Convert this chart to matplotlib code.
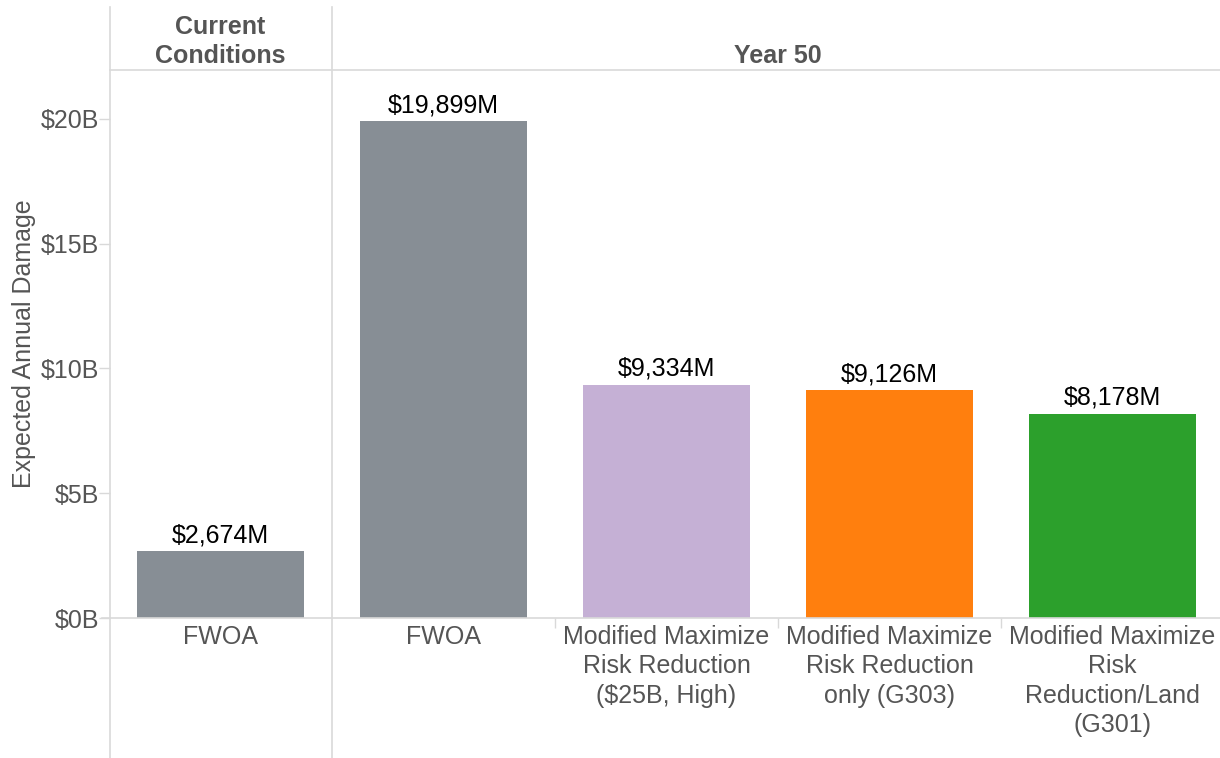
"""Expected annual damage bar chart: current conditions vs. year 50 alternatives."""

import matplotlib

matplotlib.use("Agg")

import matplotlib.pyplot as plt
from matplotlib.ticker import FuncFormatter
import matplotlib.transforms as mtransforms

plt.rcParams["font.family"] = ["Liberation Sans", "DejaVu Sans"]

# Data (values in $M)
categories = [
    "FWOA",
    "FWOA",
    "Modified Maximize\nRisk Reduction\n($25B, High)",
    "Modified Maximize\nRisk Reduction\nonly (G303)",
    "Modified Maximize\nRisk\nReduction/Land\n(G301)",
]
damage_musd = [2674, 19899, 9334, 9126, 8178]
bar_colors = ["#878e95", "#878e95", "#c5b0d5", "#ff7f0e", "#2ca02c"]
panel_titles = ["Current\nConditions", "Year 50"]
y_ticks = [0, 5, 10, 15, 20]

TEXT_GREY = "#555555"
LINE_GREY = "#d9d9d9"
FS = 18

W, H = 1220, 758
fig = plt.figure(figsize=(W / 100, H / 100), dpi=100)
# axes box in pixels: left 110, right 1220, top 70, bottom 618
ax = fig.add_axes([110 / W, (H - 618) / H, (1220 - 110) / W, (618 - 70) / H])

values_b = [v / 1000 for v in damage_musd]
x = list(range(len(categories)))
ax.bar(x, values_b, width=0.75, color=bar_colors, zorder=2)

ax.set_xlim(-0.4955, 4.482)
ax.set_ylim(0, 21.96)

for spine in ax.spines.values():
    spine.set_visible(False)

# value labels on top of bars
for xi, v in zip(x, damage_musd):
    ax.annotate("${:,}M".format(v), (xi, v / 1000), xytext=(0, 3), textcoords="offset points",
                ha="center", va="bottom", fontsize=FS, color="black")

# y axis
ax.set_yticks(y_ticks)
ax.yaxis.set_major_formatter(FuncFormatter(lambda val, pos: "${:.0f}B".format(val)))
ax.tick_params(axis="y", length=8, width=1, color=LINE_GREY, labelsize=FS, labelcolor=TEXT_GREY, pad=0)
ax.set_ylabel("Expected Annual Damage", fontsize=FS, color=TEXT_GREY)
ax.yaxis.set_label_coords(-74 / 1110, 0.5)

# x axis
ax.set_xticks(x)
ax.set_xticklabels(categories, fontsize=FS, color=TEXT_GREY, linespacing=1.28)
ax.tick_params(axis="x", length=0, pad=5)
ax.set_xticks([1.5, 2.5, 3.5], minor=True)
ax.tick_params(axis="x", which="minor", length=7, width=1, color=LINE_GREY)

# panel lines
bt = mtransforms.blended_transform_factory(ax.transData, ax.transAxes)
y_bottom = -(758 - 618) / (618 - 70)
y_top = (618 - 7) / (618 - 70)
for xv in (-0.4955, 0.5):
    ax.plot([xv, xv], [y_bottom, y_top], transform=bt, color=LINE_GREY, lw=1.2, clip_on=False, zorder=1)
ax.plot([0, 1], [1, 1], transform=ax.transAxes, color=LINE_GREY, lw=1.2, clip_on=False)
ax.plot([-8 / 1110, 1], [0, 0], transform=ax.transAxes, color=LINE_GREY, lw=1.2, clip_on=False, zorder=3)

# panel headers
header_y = (618 - 68) / (618 - 70)
ax.text(0, header_y, panel_titles[0], transform=bt, ha="center", va="bottom", fontsize=FS,
        fontweight="bold", color=TEXT_GREY, linespacing=1.28)
ax.text(2.5, header_y, panel_titles[1], transform=bt, ha="center", va="bottom", fontsize=FS,
        fontweight="bold", color=TEXT_GREY)

fig.savefig("out.png", dpi=100)
plt.close(fig)
